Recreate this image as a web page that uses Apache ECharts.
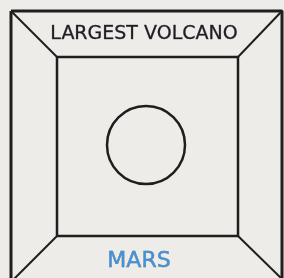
<!DOCTYPE html>
<html>
<head>
<meta charset="utf-8">
<script src="https://cdn.jsdelivr.net/npm/echarts@6/dist/echarts.min.js"></script>
<style>
  html, body { margin: 0; padding: 0; background: #eeece8; }
  #chart { width: 284px; height: 278px; }
</style>
</head>
<body>
<div id="chart"></div>
<script>
  // frame shape, in drawing units (same as the 284x278 picture)
  let outerBox = [[11, 11], [282, 11], [282, 290], [11, 290], [11, 11]];
  let innerBox = [[57, 57], [238, 57], [238, 236], [57, 236], [57, 57]];
  let cornerLines = [
    [[11, 11], [57, 57]],
    [[282, 11], [238, 57]],
    [[57, 236], [14, 279]],
    [[238, 236], [282, 279]]
  ];
  let volcano = [146, 145];
  let volcanoSize = 78;
  let titleText = 'LARGEST VOLCANO';
  let titlePos = [144, 34];
  let planetText = 'MARS';
  let planetPos = [139, 261];

  let ink = '#1e1e1e';
  let myChart = echarts.init(document.getElementById('chart'));
  myChart.setOption({
    backgroundColor: '#eeece8',
    animation: false,
    grid: { left: 0, right: 0, top: 0, bottom: 0 },
    xAxis: { type: 'value', min: 0, max: 284, show: false },
    yAxis: { type: 'value', min: 0, max: 278, inverse: true, show: false },
    series: [
      {
        type: 'line',
        data: outerBox,
        symbol: 'none',
        lineStyle: { color: ink, width: 3 }
      },
      {
        type: 'line',
        data: innerBox,
        symbol: 'none',
        lineStyle: { color: ink, width: 2.5 }
      },
      {
        type: 'lines',
        coordinateSystem: 'cartesian2d',
        data: cornerLines.map(function (c) { return { coords: c }; }),
        lineStyle: { color: ink, width: 2, opacity: 1 }
      },
      {
        type: 'scatter',
        data: [volcano],
        symbolSize: volcanoSize,
        itemStyle: { color: 'transparent', borderColor: ink, borderWidth: 2.5, opacity: 1 }
      },
      {
        type: 'scatter',
        symbolSize: 0,
        itemStyle: { opacity: 1 },
        data: [
          { value: titlePos, name: titleText, label: { color: ink, fontSize: 19 } },
          { value: planetPos, name: planetText, label: { color: '#3f93dc', fontSize: 22 } }
        ],
        label: {
          show: true,
          position: 'inside',
          formatter: '{b}',
          fontFamily: 'DejaVu Sans',
          fontWeight: 500,
          textBorderColor: 'inherit',
          textBorderWidth: 0.4
        }
      }
    ]
  });
</script>
</body>
</html>
